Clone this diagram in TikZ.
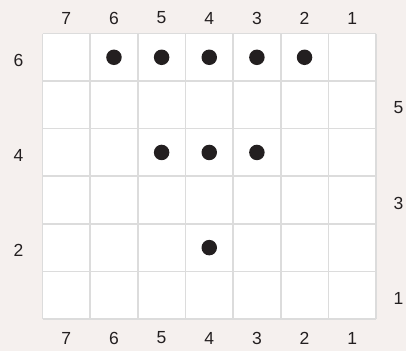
\documentclass[tikz,border=0pt]{standalone}
\usepackage{fontspec}
\setmainfont{Liberation Sans}
\definecolor{bg}{HTML}{F5F0EE}
\definecolor{gridc}{HTML}{DCDCDC}
\definecolor{dotc}{HTML}{231F20}
\begin{document}
\begin{tikzpicture}[x=1pt,y=-1pt,
  lab/.style={font=\fontsize{17.5}{20}\selectfont, text=dotc, inner sep=0pt, anchor=center},
  peg/.style={circle, fill=dotc, minimum size=15.5pt, inner sep=0pt}]
\fill[bg] (0,0) rectangle (406,351);
\useasboundingbox (0,0) rectangle (406,351);
\fill[white] (42.5,33.5) rectangle (376,319);
\foreach \i in {0,...,7} {
  \draw[gridc, line width=1.6pt] ({42.5+47.643*\i},33.5) -- ({42.5+47.643*\i},319);
}
\foreach \j in {0,...,6} {
  \draw[gridc, line width=1.6pt] (42.5,{33.5+47.583*\j}) -- (376,{33.5+47.583*\j});
}
% column labels
\foreach \i/\t in {0/7,1/6,2/5,3/4,4/3,5/2,6/1} {
  \node[lab] (top\t) at ({42.5+47.643*(\i+0.5)},18) {\t};
  \node[lab] (bot\t) at ({42.5+47.643*(\i+0.5)},338) {\t};
}
% row labels
\node[lab] (l6) at (18.5,60) {6};
\node[lab] (l4) at (18.5,155) {4};
\node[lab] (l2) at (18.5,250.5) {2};
\node[lab] (r5) at (398.5,108) {5};
\node[lab] (r3) at (398.5,203) {3};
\node[lab] (r1) at (398.5,298) {1};
% pegs
\foreach \i in {1,...,5} \node[peg] (a\i) at ({42.5+47.643*(\i+0.5)},{33.5+47.583*0.5}) {};
\foreach \i in {2,...,4} \node[peg] (b\i) at ({42.5+47.643*(\i+0.5)},{33.5+47.583*2.5}) {};
\node[peg] (c3) at ({42.5+47.643*3.5},{33.5+47.583*4.5}) {};
\end{tikzpicture}
\end{document}
